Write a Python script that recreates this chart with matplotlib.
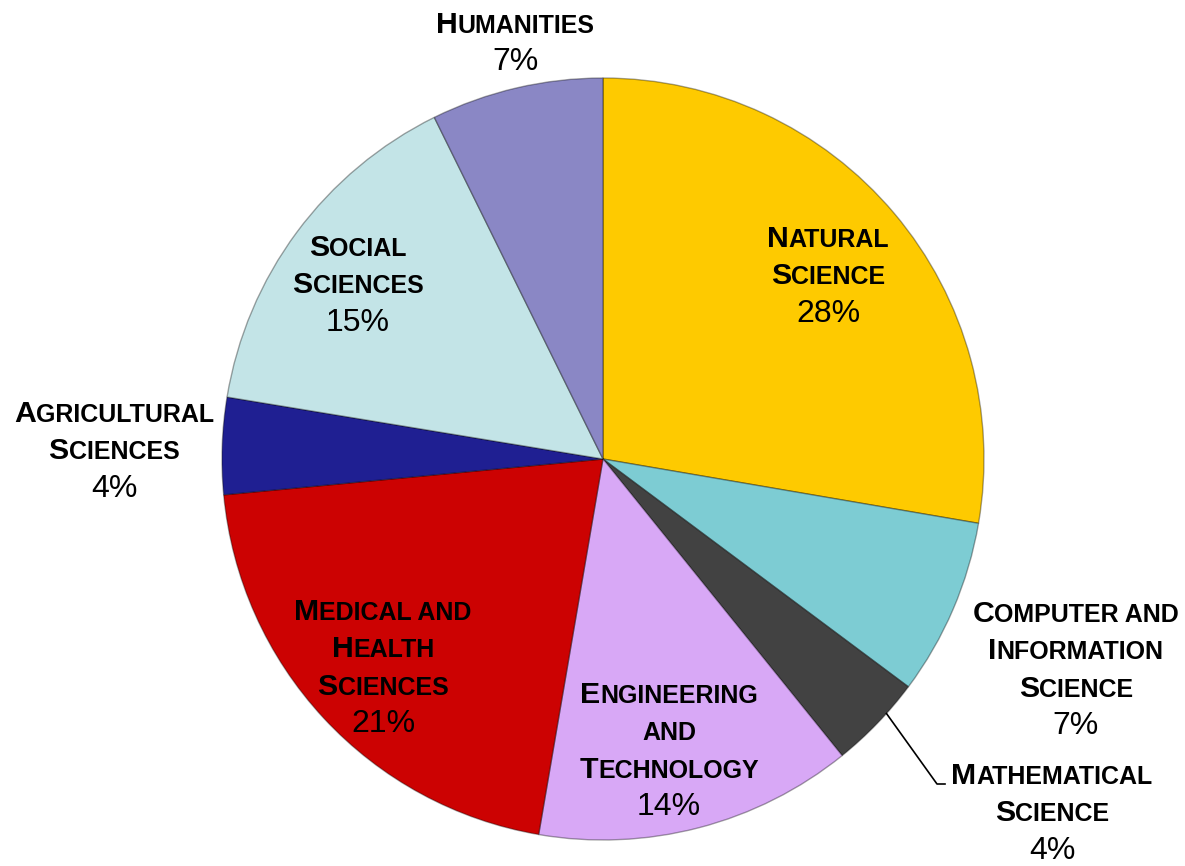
import numpy as np
import matplotlib
matplotlib.use("Agg")
import matplotlib.pyplot as plt

plt.rcParams['font.family'] = ['Liberation Sans', 'DejaVu Sans']

# --- data (clockwise from 12 o'clock) ---
categories = ["Natural\nScience", "Computer and\nInformation\nScience",
              "Mathematical\nScience", "Engineering\nand\nTechnology",
              "Medical and\nHealth\nSciences", "Agricultural\nSciences",
              "Social\nSciences", "Humanities"]
shares = [27.7, 7.5, 4.0, 13.5, 20.8, 4.1, 15.1, 7.3]
pct_labels = ["28%", "7%", "4%", "14%", "21%", "4%", "15%", "7%"]
colors = ["#FECA00", "#7DCCD3", "#424242", "#D8A8F6",
          "#CC0202", "#1F1F92", "#C3E4E7", "#8A87C5"]

# label layout: centre x, first baseline y (image pixels, y down)
label_xy = [(828, 247), (1076, 622), (1052, 784), (669, 703),
            (383, 620), (114, 422), (358, 256), (515, 33)]
line_pitch = 37.3

W, H = 1185, 866
fig = plt.figure(figsize=(W / 100, H / 100), dpi=100)
ax = fig.add_axes([0, 0, 1, 1])

cx, cy, R = 603, H - 459, 381
wedges, _ = ax.pie(shares, colors=colors, startangle=90, counterclock=False,
                   radius=R, center=(cx, cy),
                   wedgeprops=dict(edgecolor=(0, 0, 0, 0.35), linewidth=1.0))
ax.set_xlim(0, W)
ax.set_ylim(0, H)
ax.set_aspect('equal')
ax.axis('off')

renderer = fig.canvas.get_renderer()
BIG, SMALL, PCT = 21.8, 18, 23


def split_smallcaps(line):
    # group characters: uppercase -> big letters, others -> small caps
    pieces = []
    for ch in line:
        size = BIG if ch.isupper() else SMALL
        if pieces and pieces[-1][1] == size:
            pieces[-1][0] += ch.upper()
        else:
            pieces.append([ch.upper(), size])
    return pieces


def draw_line(xc, y_img, line, bold):
    if bold:
        pieces = split_smallcaps(line)
    else:
        pieces = [[line, PCT]]
    texts = []
    for s, size in pieces:
        t = ax.text(0, H - y_img, s, fontsize=size,
                    fontweight='bold' if bold else 'normal',
                    ha='left', va='baseline', color='black')
        texts.append(t)
    widths = [t.get_window_extent(renderer).width for t in texts]
    x = xc - sum(widths) / 2
    for t, w in zip(texts, widths):
        t.set_x(x)
        x += w


for cat, pct, (lx, ly) in zip(categories, pct_labels, label_xy):
    lines = cat.split("\n")
    for i, ln in enumerate(lines):
        draw_line(lx, ly + i * line_pitch, ln, True)
    draw_line(lx, ly + len(lines) * line_pitch, pct, False)

# leader line for the Mathematical Science slice
w = wedges[2]
mid = np.deg2rad((w.theta1 + w.theta2) / 2 + 2)
sx, sy = cx + R * np.cos(mid), cy + R * np.sin(mid)
ax.plot([sx, 937, 945], [sy, H - 784, H - 784], color='black', lw=1.2)

fig.savefig("out.png", dpi=100)
